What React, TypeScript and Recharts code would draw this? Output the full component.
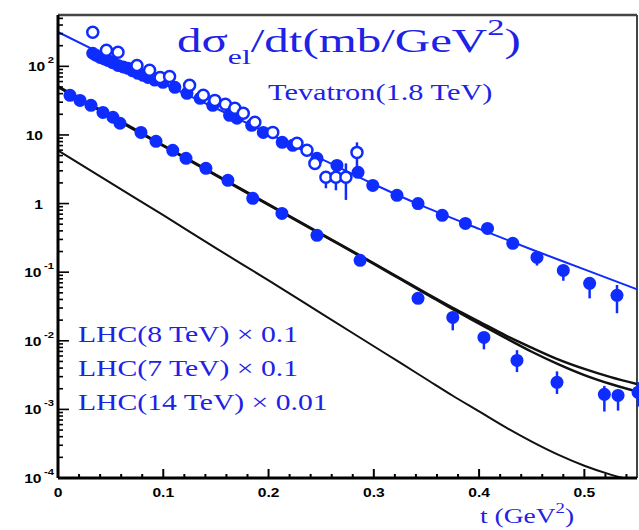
import React from "react";
import { ComposedChart, Line, Scatter, XAxis, YAxis, ErrorBar, ReferenceLine } from "recharts";

const BLUE = "#0f2cff";
const INK = "#1e22e6";
const SERIF = '"Liberation Serif", "Times New Roman", serif';
const SANS = '"Liberation Sans", Arial, sans-serif';

// model curves (mb/GeV^2) vs t (GeV^2)
const tevFitT = [0, 0.05, 0.1, 0.15, 0.2, 0.25, 0.3, 0.35, 0.4, 0.45, 0.5, 0.55];
const tevFitV = [316, 132, 56.2, 24.5, 10.5, 4.47, 1.91, 0.871, 0.427, 0.214, 0.11, 0.0562];

const lhcFitT = [0, 0.05, 0.1, 0.15, 0.2, 0.25, 0.3, 0.325, 0.35, 0.375, 0.4, 0.425, 0.45, 0.475, 0.5, 0.525, 0.55];
const lhc8FitV = [51.3, 19.1, 7.08, 2.63, 0.977, 0.363, 0.135, 0.0813, 0.049, 0.0302, 0.0191, 0.012, 0.00794, 0.00537, 0.00389, 0.00295, 0.00234];
const lhc7FitV = [50.0, 18.6, 6.9, 2.57, 0.955, 0.355, 0.132, 0.0795, 0.0479, 0.0288, 0.0178, 0.011, 0.00692, 0.00457, 0.00316, 0.00234, 0.00182];
const lhc14FitV = [5.96, 2.0, 0.676, 0.224, 0.0759, 0.0251, 0.00832, 0.00479, 0.00275, 0.00158, 0.000933, 0.00055, 0.000339, 0.000219, 0.000151, 0.000112, 0.0000891];

// Tevatron data, filled markers
const tevFilledT = [0.033, 0.036, 0.04, 0.044, 0.0475, 0.052, 0.057, 0.062, 0.0665, 0.071, 0.076, 0.081, 0.0855, 0.092, 0.0997, 0.111, 0.1225, 0.135, 0.147, 0.163, 0.17, 0.184, 0.195, 0.213, 0.223, 0.246, 0.265, 0.285, 0.299, 0.322, 0.342, 0.365, 0.387, 0.408, 0.432, 0.455, 0.48, 0.505, 0.531];
const tevFilledV = [155, 145, 135, 128, 122, 113, 103, 98, 93.6, 86, 79, 74, 69, 63, 58.5, 49.4, 40.4, 34.2, 27, 19.3, 17.5, 13.8, 10.9, 7.8, 7.05, 4.56, 3.6, 2.85, 1.84, 1.32, 1.0, 0.673, 0.514, 0.434, 0.263, 0.164, 0.106, 0.0687, 0.0459];
const tevFilledBarT = [0.455, 0.48, 0.505, 0.531];
const tevFilledBarV = [0.164, 0.106, 0.0687, 0.0459];
const tevFilledBarLo = [0.125, 0.075, 0.0415, 0.0252];
const tevFilledBarHi = [0.164, 0.106, 0.0687, 0.065];

// Tevatron data, open markers
const tevOpenT = [0.033, 0.046, 0.057, 0.075, 0.087, 0.097, 0.106, 0.125, 0.138, 0.149, 0.159, 0.168, 0.176, 0.187, 0.204, 0.227, 0.2365, 0.244, 0.2545, 0.264, 0.2735, 0.284];
const tevOpenV = [313, 171, 160, 103, 87.5, 69, 71, 52.8, 37.8, 31.9, 28, 24.4, 20.7, 15.3, 10.9, 7.55, 5.97, 3.85, 2.41, 2.41, 2.41, 5.57];
const tevOpenBarT = [0.2545, 0.264, 0.2735, 0.284];
const tevOpenBarV = [2.41, 2.41, 2.41, 5.57];
const tevOpenBarLo = [1.67, 1.56, 1.13, 3.37];
const tevOpenBarHi = [2.41, 2.41, 3.85, 7.8];

// LHC data (scaled)
const lhcT = [0.0114, 0.0209, 0.0313, 0.0427, 0.0522, 0.0589, 0.0788, 0.0931, 0.109, 0.1216, 0.1405, 0.1614, 0.185, 0.2127, 0.246, 0.287, 0.342, 0.375, 0.4046, 0.436, 0.474, 0.519, 0.532, 0.551];
const lhcV = [37.8, 31.9, 27.0, 21.3, 18.1, 14.8, 10.9, 8.07, 5.97, 4.56, 3.26, 2.18, 1.19, 0.719, 0.344, 0.149, 0.0415, 0.0219, 0.0112, 0.00518, 0.00248, 0.00166, 0.0016, 0.00177];
const lhcBarT = [0.375, 0.4046, 0.436, 0.474, 0.519, 0.532, 0.551];
const lhcBarV = [0.0219, 0.0112, 0.00518, 0.00248, 0.00166, 0.0016, 0.00177];
const lhcBarLo = [0.0142, 0.0075, 0.0035, 0.00168, 0.00093, 0.00096, 0.0011];
const lhcBarHi = [0.024, 0.0125, 0.0073, 0.00358, 0.0022, 0.0018, 0.0025];

const xTicks = [0, 0.02, 0.04, 0.06, 0.08, 0.1, 0.12, 0.14, 0.16, 0.18, 0.2, 0.22, 0.24, 0.26, 0.28, 0.3, 0.32, 0.34, 0.36, 0.38, 0.4, 0.42, 0.44, 0.46, 0.48, 0.5, 0.52, 0.54];
const yDecades = [-4, -3, -2, -1, 0, 1, 2];
const yTicks = yDecades.flatMap((d) => [1, 2, 3, 4, 5, 6, 7, 8, 9].map((m) => m * Math.pow(10, d))).filter((v) => v <= 560);

const pts = (t: number[], v: number[]) => t.map((x, i) => ({ t: x, v: v[i] }));
const barPts = (t: number[], v: number[], lo: number[], hi: number[]) =>
  t.map((x, i) => ({ t: x, v: v[i], err: [v[i] - lo[i], hi[i] - v[i]] }));

function XTick(props: any) {
  const { x, y, payload } = props;
  const v = payload.value;
  const major = Math.abs(v * 10 - Math.round(v * 10)) < 1e-6;
  return (
    <g>
      <line x1={x} x2={x} y1={y} y2={y - (major ? 9 : 4)} stroke="#000" strokeWidth={2} />
      {major && (
        <text transform={`translate(${x},${y + 19}) scale(1.25,1)`} textAnchor="middle"
          fontFamily={SANS} fontWeight="bold" fontSize={12.5} fill="#000">
          {v === 0 ? "0" : v.toFixed(1)}
        </text>
      )}
    </g>
  );
}

function YTick(props: any) {
  const { x, y, payload } = props;
  const lg = Math.log10(payload.value);
  const e = Math.round(lg);
  const major = Math.abs(lg - e) < 1e-6;
  let label: React.ReactNode = null;
  if (major) {
    const plain = e === 0 || e === 1;
    label = (
      <text transform={`translate(${x - (plain ? 15 : 4)},${y + 5}) scale(1.25,1)`} textAnchor="end"
        fontFamily={SANS} fontWeight="bold" fontSize={12.5} fill="#000">
        {plain ? (e === 0 ? "1" : "10") : "10"}
        {!plain && <tspan dx={2} dy={-8} fontSize={9}>{String(e)}</tspan>}
      </text>
    );
  }
  return (
    <g>
      <line x1={x} x2={x + (major ? 11 : 5)} y1={y} y2={y} stroke="#000" strokeWidth={1.6} />
      {label}
    </g>
  );
}

const filledDot = (p: any) => <circle cx={p.cx} cy={p.cy} r={6.5} fill={BLUE} />;
const openDot = (p: any) => <circle cx={p.cx} cy={p.cy} r={5.5} fill="#fff" stroke={BLUE} strokeWidth={2.5} />;
const noDot = () => <g />;

export default function App() {
  return (
    <div style={{ position: "absolute", left: 0, top: 0, width: 639, height: 530, background: "#fff" }}>
      <ComposedChart width={639} height={530} margin={{ top: 15, right: 2, bottom: 0, left: 0 }}>
        <XAxis type="number" dataKey="t" domain={[0, 0.55]} allowDataOverflow ticks={xTicks} interval={0}
          height={52} tickLine={false} tickSize={0} tickMargin={0} tick={(p: any) => <XTick {...p} />}
          axisLine={{ stroke: "#000", strokeWidth: 3 }} />
        <YAxis type="number" scale="log" domain={[1e-4, 560]} allowDataOverflow ticks={yTicks} interval={0}
          width={58} tickLine={false} tickSize={0} tickMargin={0} tick={(p: any) => <YTick {...p} />}
          axisLine={{ stroke: "#000", strokeWidth: 3 }} />
        <ReferenceLine x={0.55} stroke="#444" strokeWidth={2} ifOverflow="visible" />
        <ReferenceLine y={560} stroke="#444" strokeWidth={2.5} ifOverflow="visible" />

        <Line data={pts(tevFitT, tevFitV)} dataKey="v" type="monotone" stroke={BLUE} strokeWidth={2}
          dot={false} isAnimationActive={false} />

        <Scatter data={pts(tevFilledT, tevFilledV)} dataKey="v" shape={filledDot} isAnimationActive={false} />
        <Scatter data={barPts(tevFilledBarT, tevFilledBarV, tevFilledBarLo, tevFilledBarHi)} dataKey="v"
          shape={noDot} isAnimationActive={false}>
          <ErrorBar dataKey="err" direction="y" width={0} stroke={BLUE} strokeWidth={2.5} />
        </Scatter>
        <Scatter data={barPts(tevOpenBarT, tevOpenBarV, tevOpenBarLo, tevOpenBarHi)} dataKey="v"
          shape={noDot} isAnimationActive={false}>
          <ErrorBar dataKey="err" direction="y" width={0} stroke={BLUE} strokeWidth={2.5} />
        </Scatter>
        <Scatter data={pts(tevOpenT, tevOpenV)} dataKey="v" shape={openDot} isAnimationActive={false} />

        <Scatter data={barPts(lhcBarT, lhcBarV, lhcBarLo, lhcBarHi)} dataKey="v" shape={noDot} isAnimationActive={false}>
          <ErrorBar dataKey="err" direction="y" width={0} stroke={BLUE} strokeWidth={2.5} />
        </Scatter>
        <Scatter data={pts(lhcT, lhcV)} dataKey="v" shape={filledDot} isAnimationActive={false} />

        <Line data={pts(lhcFitT, lhc8FitV)} dataKey="v" type="monotone" stroke="#111" strokeWidth={2.5}
          dot={false} isAnimationActive={false} />
        <Line data={pts(lhcFitT, lhc7FitV)} dataKey="v" type="monotone" stroke="#111" strokeWidth={2.5}
          dot={false} isAnimationActive={false} />
        <Line data={pts(lhcFitT, lhc14FitV)} dataKey="v" type="monotone" stroke="#111" strokeWidth={2}
          dot={false} isAnimationActive={false} />
      </ComposedChart>

      <svg width={639} height={530} style={{ position: "absolute", left: 0, top: 0, pointerEvents: "none" }}>
        <text transform="translate(177,52) scale(1.44,1)" fontFamily={SERIF} fontSize={34} fill={INK}>
          dσ
          <tspan dy={12} fontSize={22}>el</tspan>
          <tspan dy={-12}>/dt(mb/GeV</tspan>
          <tspan dy={-17} fontSize={24}>2</tspan>
          <tspan dy={17}>)</tspan>
        </text>
        <text transform="translate(268,100) scale(1.32,1)" fontFamily={SERIF} fontSize={23} fill={INK}>
          Tevatron(1.8 TeV)
        </text>
        <text transform="translate(78,342) scale(1.29,1)" fontFamily={SERIF} fontSize={23} fill={INK}>
          LHC(8 TeV) × 0.1
        </text>
        <text transform="translate(78,376) scale(1.29,1)" fontFamily={SERIF} fontSize={23} fill={INK}>
          LHC(7 TeV) × 0.1
        </text>
        <text transform="translate(78,410) scale(1.29,1)" fontFamily={SERIF} fontSize={23} fill={INK}>
          LHC(14 TeV) × 0.01
        </text>
        <text transform="translate(480,523) scale(1.25,1)" fontFamily={SERIF} fontSize={22} fill={INK}>
          t (GeV
          <tspan dy={-10} fontSize={15}>2</tspan>
          <tspan dy={10}>)</tspan>
        </text>
      </svg>
    </div>
  );
}
